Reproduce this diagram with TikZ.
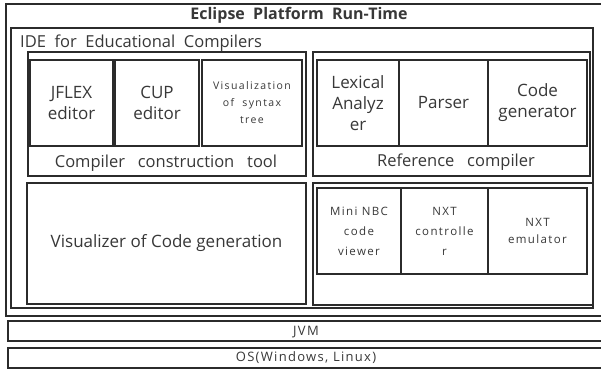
\documentclass[tikz,border=0pt]{standalone}
\usepackage{fontspec}
\setmainfont{Open Sans}
\newfontfamily\spfont[LetterSpace=12]{Open Sans}
\newfontfamily\sppfont[LetterSpace=13]{Open Sans}
\newfontfamily\osfont[LetterSpace=10]{Open Sans}
\definecolor{ln}{HTML}{2B2B2B}
\definecolor{tx}{HTML}{383838}
\tikzset{
  box/.style={draw=ln, line width=1.6pt, inner sep=0pt, outer sep=0pt, rectangle, align=center, text=tx},
  lbl/.style={inner sep=0pt, text=tx, align=center},
  big/.style={font=\fontsize{17}{21}\selectfont},
  mid/.style={font=\spfont\fontsize{11.5}{20}\selectfont},
  grp/.style={font=\fontsize{16.5}{18}\selectfont},
}
\begin{document}
\begin{tikzpicture}[x=1pt, y=-1pt]
\useasboundingbox (0,0) rectangle (601,370);
\clip (0,0) rectangle (601,370);
\fill[white] (0,0) rectangle (601,370);
% outer platform
\node[box, minimum width=598pt, minimum height=312pt] (eclipse) at (305,160) {};
\node[lbl, font=\bfseries\fontsize{16}{18}\selectfont] (title) at (299,15) {Eclipse\ \ Platform\ \ Run-Time};
% IDE
\node[box, minimum width=582pt, minimum height=280pt] (ide) at (302,168) {};
\node[lbl, grp, anchor=west] (idel) at (20,43) {IDE\ \ for\ \ Educational\ \ Compilers};
% compiler construction tool
\node[box, minimum width=278pt, minimum height=124pt] (cc) at (167,114) {};
\node[box, big, minimum width=83pt, minimum height=86pt] (jflex) at (71.5,103) {JFLEX\\editor};
\node[box, big, minimum width=84pt, minimum height=86pt] (cup) at (157,103) {CUP\\editor};
\node[box, minimum width=100pt, minimum height=86pt, font=\sppfont\fontsize{10.5}{17}\selectfont] (vis) at (252,103) {Visualization\\of\ \ syntax\\tree};
\node[lbl, grp] (ccl) at (166,163) {Compiler\ \ \ construction\ \ \ tool};
% reference compiler
\node[box, minimum width=277pt, minimum height=124pt] (ref) at (451.5,114) {};
\node[box, big, minimum width=82pt, minimum height=86pt] (lex) at (358,103) {Lexical\\Analyz\\er};
\node[box, big, minimum width=89pt, minimum height=86pt] (parser) at (443.5,103) {Parser};
\node[box, big, minimum width=99pt, minimum height=86pt] (cg) at (537.5,103) {Code\\generator};
\node[lbl, grp] (refl) at (456,162) {Reference\ \ \ compiler};
% visualizer
\node[box, minimum width=279pt, minimum height=121pt, font=\fontsize{17}{19}\selectfont] (viz) at (166.5,243.5) {Visualizer of Code generation};
% NXT group
\node[box, minimum width=280pt, minimum height=122pt] (nxt) at (453,244) {};
\node[box, mid, minimum width=84pt, minimum height=86pt] (nbc) at (359,231) {Mini NBC\\code\\viewer};
\node[box, mid, minimum width=87pt, minimum height=86pt] (ctrl) at (444.5,231) {NXT\\controlle\\r};
\node[box, minimum width=99pt, minimum height=86pt, font=\spfont\fontsize{11.5}{17}\selectfont] (emu) at (537.5,231) {NXT\\emulator};
% JVM and OS
\node[box, minimum width=596pt, minimum height=20pt] (jvm) at (306,331) {};
\node[lbl, font=\osfont\fontsize{13}{15}\selectfont] (jvml) at (306,332) {JVM};
\node[box, minimum width=596pt, minimum height=20pt] (os) at (306,358) {};
\node[lbl, font=\osfont\fontsize{13}{15}\selectfont] (osl) at (306,358) {OS(Windows, Linux)};
\end{tikzpicture}
\end{document}
